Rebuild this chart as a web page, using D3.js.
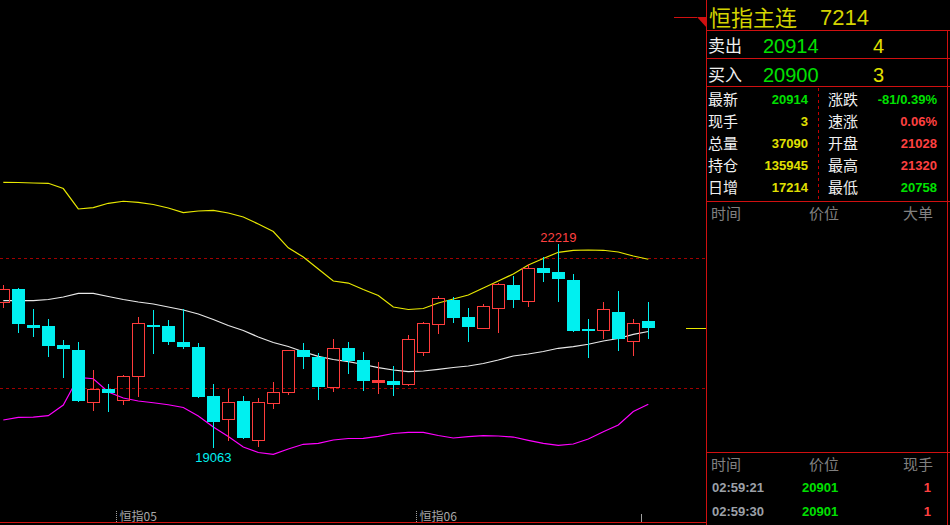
<!DOCTYPE html>
<html><head><meta charset="utf-8">
<script src="https://cdn.jsdelivr.net/npm/d3@7"></script>
<style>html,body{margin:0;padding:0;background:#000;overflow:hidden}</style>
</head><body><svg id="c" width="950" height="525"></svg>
<script>
// ---------- data ----------
const categories = d3.range(44).map(i => "K" + (i + 1));
const opens  = [21318,21524,20968,20952,20659,20582,19774,19979,19814,20175,20968,20952,20705,20628,19871,19511,19794,19196,19758,19928,20582,20473,20015,20612,20427,20092,20103,20052,20558,20979,21354,21087,20926,21226,21586,21334,21848,21786,21663,20906,20886,21168,20716,21028];
const highs  = [21586,21535,21215,21060,20736,20705,20273,20056,20191,21087,21199,21045,21215,20685,20056,19979,19871,19840,20087,20577,20694,20530,20751,20705,20551,20396,20334,20813,21010,21416,21396,21230,21292,21612,21725,21905,22014,22219,21756,21060,21323,21493,21060,21320];
const lows   = [21226,20849,20787,20478,20154,19783,19644,19628,19736,19860,20524,20663,20602,19845,19063,19180,19207,19088,19665,19891,20293,19814,19937,20215,19953,19906,19876,20025,20493,20836,21003,20710,20906,20849,21235,21250,21637,21328,20864,20462,20751,20571,20493,20758];
const closes = [21519,20988,20926,20648,20602,19798,19979,19922,20175,20994,20937,20710,20633,19856,19474,19774,19227,19774,19928,20577,20478,20015,20608,20416,20107,20118,20046,20747,20994,21380,21081,20942,21257,21596,21358,21844,21776,21683,20880,20880,21210,20747,20994,20914];
const bollUpper = [23172,23169,23161,23157,23076,22760,22780,22848,22879,22863,22829,22775,22703,22729,22737,22698,22636,22528,22412,22160,22018,21833,21647,21616,21516,21423,21246,21207,21223,21308,21369,21431,21539,21647,21756,21895,21995,22091,22119,22126,22122,22095,22034,21983];
const bollMid   = [21343,21343,21343,21362,21400,21457,21457,21408,21362,21323,21292,21246,21199,21138,21053,20960,20883,20782,20697,20636,20555,20484,20435,20401,20358,20308,20273,20249,20257,20283,20311,20334,20373,20427,20489,20520,20558,20608,20633,20670,20721,20759,20824,20867];
const bollLower = [19500,19542,19546,19567,19732,20160,20137,19933,19840,19794,19767,19736,19693,19562,19392,19245,19083,18998,18970,19052,19125,19140,19191,19214,19217,19248,19292,19310,19310,19261,19222,19242,19258,19253,19237,19186,19140,19109,19129,19207,19319,19423,19632,19743];
const refLevels = [22000, 20000];
const lastPrice = 20914;
const contractMarks = [{at: 8, label: "恒指05"}, {at: 28, label: "恒指06"}, {at: 43, label: ""}];

// right panel data
const title = ["恒指主连", "7214"];
const askRow = ["卖出", "20914", "4"];
const bidRow = ["买入", "20900", "3"];
const leftLabels = ["最新", "现手", "总量", "持仓", "日增"];
const leftValues = ["20914", "3", "37090", "135945", "17214"];
const leftColors = ["g", "y", "y", "y", "y"];
const rightLabels = ["涨跌", "速涨", "开盘", "最高", "最低"];
const rightValues = ["-81/0.39%", "0.06%", "21028", "21320", "20758"];
const rightColors = ["g", "r", "r", "r", "g"];
const bigHeader = ["时间", "价位", "大单"];
const tickHeader = ["时间", "价位", "现手"];
const tickTimes = ["02:59:21", "02:59:30"];
const tickPrices = ["20901", "20901"];
const tickVols = ["1", "1"];

// ---------- drawing ----------
const RED = "#ff3c3c", CYAN = "#00f0f0", FRAME = "#d01010";
const COL = {g: "#00e000", y: "#e0e000", r: "#ff4040"};
const svg = d3.select("#c");
svg.append("rect").attr("width", 950).attr("height", 525).attr("fill", "#000");

const x = d3.scalePoint().domain(categories).range([3.3, 648.3]);
const y = d3.scaleLinear().domain([19063, 22219]).range([448.3, 244]);
const step = x.step();
const px = v => Math.round(v) + 0.5;

const chart = svg.append("g");
chart.append("clipPath").attr("id", "clip").append("rect").attr("x", 0).attr("y", 18).attr("width", 706).attr("height", 504);
const plot = chart.append("g").attr("clip-path", "url(#clip)");

// reference dashed lines
refLevels.forEach(v => {
  plot.append("line").attr("x1", 0).attr("x2", 706).attr("y1", px(y(v))).attr("y2", px(y(v)))
    .attr("stroke", "#a00000").attr("stroke-dasharray", "3,3").attr("shape-rendering", "crispEdges");
});

// bollinger bands
const line = arr => d3.line().x((d, i) => x(categories[i])).y(d => y(d))(arr);
[[bollUpper, "#e8e800"], [bollMid, "#e8e8e8"], [bollLower, "#ff00ff"]].forEach(([arr, c]) => {
  plot.append("path").attr("d", line(arr)).attr("fill", "none").attr("stroke", c).attr("stroke-width", 1.2);
});

// candles
categories.forEach((cat, i) => {
  const cx = px(x(cat));
  const o = opens[i], c = closes[i], h = highs[i], l = lows[i];
  const top = Math.round(y(Math.max(o, c))), bot = Math.round(y(Math.min(o, c)));
  const yh = Math.round(y(h)), yl = Math.round(y(l));
  const g = plot.append("g").attr("shape-rendering", "crispEdges");
  if (c > o) {
    if (yh < top) g.append("line").attr("x1", cx).attr("x2", cx).attr("y1", yh).attr("y2", top).attr("stroke", RED);
    if (yl > bot) g.append("line").attr("x1", cx).attr("x2", cx).attr("y1", bot + 1).attr("y2", yl).attr("stroke", RED);
    if (bot - top <= 2) {
      g.append("rect").attr("x", cx - 6.5).attr("y", top).attr("width", 13).attr("height", Math.max(2, bot - top + 1)).attr("fill", RED);
    } else {
      g.append("rect").attr("x", cx - 6).attr("y", top + 0.5).attr("width", 12).attr("height", bot - top)
        .attr("fill", "none").attr("stroke", RED);
    }
  } else {
    g.append("line").attr("x1", cx).attr("x2", cx).attr("y1", yh).attr("y2", yl).attr("stroke", CYAN);
    g.append("rect").attr("x", cx - 6.5).attr("y", top).attr("width", 13).attr("height", Math.max(2, bot - top)).attr("fill", CYAN);
  }
});

// high / low annotations
const iMax = d3.maxIndex(highs), iMin = d3.minIndex(lows);
plot.append("text").attr("x", x(categories[iMax])).attr("y", y(highs[iMax]) - 2).attr("text-anchor", "middle")
  .attr("font-family", "Liberation Sans, Arial, sans-serif").attr("font-size", 13).attr("fill", "#ff4040").text(highs[iMax]);
plot.append("text").attr("x", x(categories[iMin])).attr("y", y(lows[iMin]) + 14).attr("text-anchor", "middle")
  .attr("font-family", "Liberation Sans, Arial, sans-serif").attr("font-size", 13).attr("fill", CYAN).text(lows[iMin]);

// last price marker
svg.append("line").attr("x1", 686).attr("x2", 706).attr("y1", px(y(lastPrice))).attr("y2", px(y(lastPrice)))
  .attr("stroke", "#e8e800").attr("shape-rendering", "crispEdges");

// x axis contract marks
contractMarks.forEach(m => {
  const tx = px(x(categories[m.at]) - step / 2);
  svg.append("line").attr("x1", tx).attr("x2", tx).attr("y1", m.label ? 511 : 514).attr("y2", 522)
    .attr("stroke", "#a0a0a0").attr("stroke-dasharray", m.label ? "1,1" : null).attr("shape-rendering", "crispEdges");
  if (m.label) svg.append("text").attr("x", tx + 3).attr("y", 521).attr("font-family", "Noto Sans CJK SC, sans-serif")
    .attr("font-size", 12).attr("fill", "#a8a8a8").text(m.label);
});

// frame lines
const fl = (x1, y1, x2, y2, dash) => svg.append("line").attr("x1", x1).attr("y1", y1).attr("x2", x2).attr("y2", y2)
  .attr("stroke", dash ? "#c00000" : FRAME).attr("stroke-dasharray", dash || null).attr("shape-rendering", "crispEdges");
fl(0, 522.5, 706, 522.5);
fl(674, 17.5, 697, 17.5);
fl(706.5, 0, 706.5, 525);
fl(706, 30.5, 950, 30.5);
fl(706, 58.5, 950, 58.5);
fl(706, 86.5, 950, 86.5);
fl(706, 201.5, 950, 201.5);
fl(706, 452.5, 950, 452.5);
fl(947.5, 30, 947.5, 525);
fl(818.5, 88, 818.5, 200, "3,3");
svg.append("path").attr("d", "M697,17 L707,17 L707,28 Z").attr("fill", FRAME);

// right panel text
const CJK = "Noto Sans CJK SC, sans-serif", NUM = "Liberation Sans, Arial, sans-serif";
const T = (tx, ty, s, o) => svg.append("text").attr("x", tx).attr("y", ty).text(s)
  .attr("font-family", o.f || CJK).attr("font-size", o.s).attr("fill", o.c)
  .attr("font-weight", o.w || "normal").attr("text-anchor", o.a || "start");

T(709, 25.5, title[0], {s: 22, c: "#d4d400"});
T(820, 25, title[1], {s: 22, c: "#d4d400", f: NUM});
[[askRow, 52, 53], [bidRow, 81, 82]].forEach(([r, b1, b2]) => {
  T(708, b1, r[0], {s: 17, c: "#f0f0f0"});
  T(763, b2, r[1], {s: 20, c: COL.g, f: NUM});
  T(873, b2, r[2], {s: 20, c: COL.y, f: NUM});
});
leftLabels.forEach((lab, i) => {
  const b = 105 + 22 * i;
  T(708, b, lab, {s: 15, c: "#f0f0f0"});
  T(808, b - 1.5, leftValues[i], {s: 13, c: COL[leftColors[i]], f: NUM, w: "bold", a: "end"});
  T(828, b, rightLabels[i], {s: 15, c: "#f0f0f0"});
  T(937, b - 1.5, rightValues[i], {s: 13, c: COL[rightColors[i]], f: NUM, w: "bold", a: "end"});
});
const hx = [711, 809, 903];
bigHeader.forEach((h, i) => T(hx[i], 219, h, {s: 15, c: "#808080"}));
tickHeader.forEach((h, i) => T(hx[i], 470, h, {s: 15, c: "#808080"}));
tickTimes.forEach((t, i) => {
  const b = 491.5 + 24.5 * i;
  T(712, b, t, {s: 13, c: "#9ca0a8", f: NUM, w: "bold"});
  T(802, b, tickPrices[i], {s: 13, c: COL.g, f: NUM, w: "bold"});
  T(931, b, tickVols[i], {s: 13, c: "#ff4040", f: NUM, w: "bold", a: "end"});
});
</script></body></html>
